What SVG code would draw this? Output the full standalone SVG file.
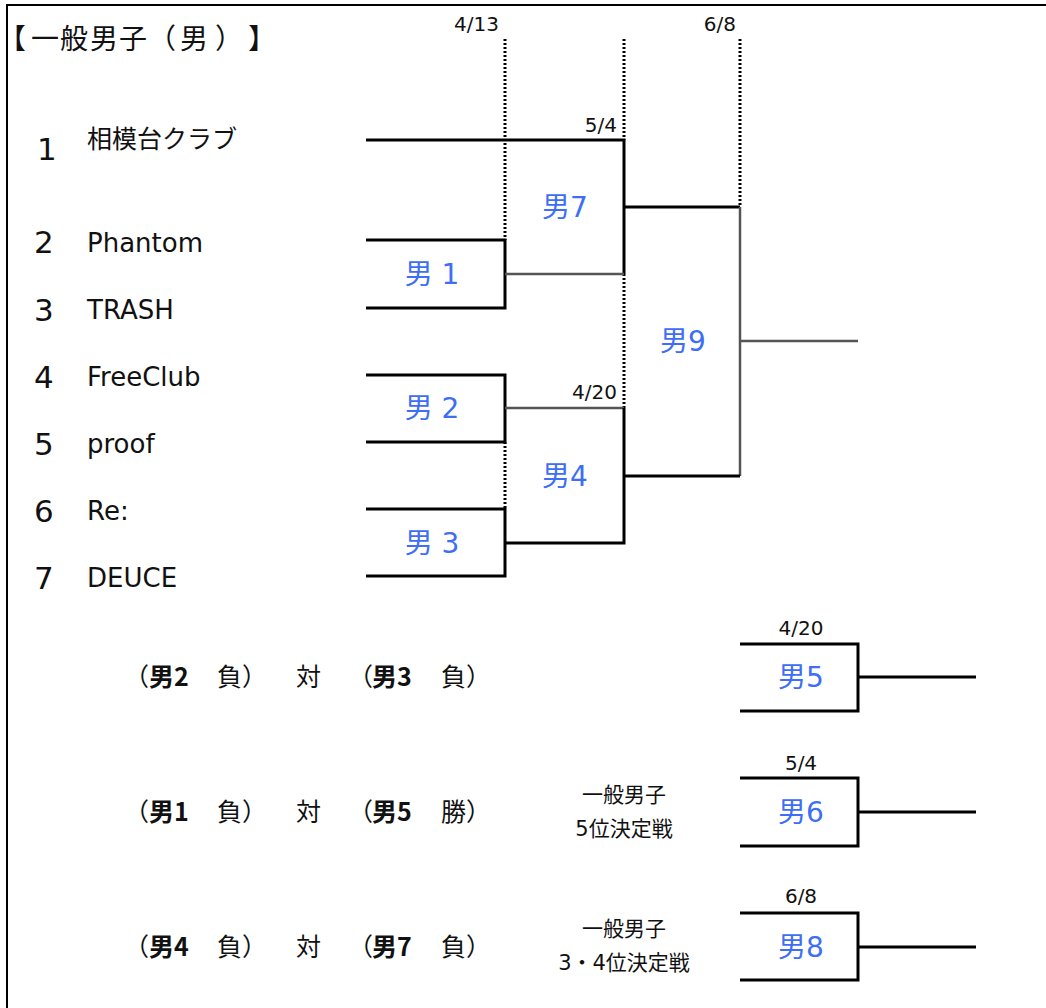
<svg xmlns="http://www.w3.org/2000/svg" width="1046" height="1008" viewBox="0 0 1046 1008">
<style>
text{font-family:"DejaVu Sans","Noto Sans CJK JP",sans-serif;fill:#111;text-spacing-trim:space-all}
.t{font-size:28px;font-family:"Noto Sans CJK JP",sans-serif;font-weight:normal}
.num{font-size:31px}
.name{font-size:26px}
.jp{font-size:25px;font-family:"Noto Sans CJK JP",sans-serif}
.date{font-size:20px}
.m{font-size:28px;fill:#3d6ef5;text-anchor:middle}
.row{font-size:25px;font-family:"Noto Sans CJK JP",sans-serif}
.b{font-weight:bold}
.side{font-size:21px;text-anchor:middle}
.k{stroke:#000;stroke-width:3;fill:none}
.g{stroke:#555;stroke-width:2.5;fill:none}
.d{stroke:#000;stroke-width:3;stroke-dasharray:2 2;fill:none}
</style>
<rect width="1046" height="1008" fill="#fff"/>
<path d="M7 1008V5H1046" fill="none" stroke="#000" stroke-width="2"/>
<text class="t" x="-2 31 60 90 119 148 180 215 248" y="49">【一般男子（男）】</text>

<g id="dates">
<text class="date" x="499" y="31" text-anchor="end">4/13</text>
<text class="date" x="736" y="31" text-anchor="end">6/8</text>
<text class="date" x="617" y="132" text-anchor="end">5/4</text>
<text class="date" x="617" y="399" text-anchor="end">4/20</text>
<text class="date" x="801" y="635" text-anchor="middle">4/20</text>
<text class="date" x="801" y="770" text-anchor="middle">5/4</text>
<text class="date" x="801" y="903" text-anchor="middle">6/8</text>
</g>

<g id="teams">
<g id="team1"><text class="num" x="37" y="160">1</text><text class="jp" x="87" y="148">相模台クラブ</text></g>
<g id="team2"><text class="num" x="34" y="253">2</text><text class="name" x="87" y="252">Phantom</text></g>
<g id="team3"><text class="num" x="34" y="321">3</text><text class="name" x="87" y="319">TRASH</text></g>
<g id="team4"><text class="num" x="34" y="388">4</text><text class="name" x="87" y="386">FreeClub</text></g>
<g id="team5"><text class="num" x="34" y="455">5</text><text class="name" x="87" y="453">proof</text></g>
<g id="team6"><text class="num" x="34" y="522">6</text><text class="name" x="87" y="520">Re:</text></g>
<g id="team7"><text class="num" x="34" y="589">7</text><text class="name" x="87" y="587">DEUCE</text></g>
</g>

<g id="connectors">
<path class="d" d="M505 39V240M505 442V509M624 39V140M624 274V408M740 39V207"/>
<path class="k" d="M366 140H624V274"/>
<path class="k" d="M366 240H505V308H366"/>
<path class="g" d="M505 274H624"/>
<path class="k" d="M624 207H740"/>
<path class="g" d="M740 207V476"/>
<path class="g" d="M740 341H858"/>
<path class="k" d="M366 375H505V442H366"/>
<path class="g" d="M505 408H624"/>
<path class="k" d="M624 408V543H505"/>
<path class="k" d="M366 509H505V576H366"/>
<path class="k" d="M624 476H740"/>
<path class="k" d="M740 644H858V711H740M858 677H976"/>
<path class="k" d="M740 778H858V846H740M858 812H976"/>
<path class="k" d="M740 913H858V980H740M858 947H976"/>
</g>

<g id="matches">
<text id="m1" class="m" x="432" y="284">男 1</text>
<text id="m2" class="m" x="432" y="418">男 2</text>
<text id="m3" class="m" x="432" y="553">男 3</text>
<text id="m7" class="m" x="565" y="217">男7</text>
<text id="m4" class="m" x="565" y="486">男4</text>
<text id="m9" class="m" x="683" y="351">男9</text>
<text id="m5" class="m" x="801" y="687">男5</text>
<text id="m6" class="m" x="801" y="822">男6</text>
<text id="m8" class="m" x="801" y="957">男8</text>
</g>

<g id="consolation">
<g id="row1">
<text class="row" x="124" y="686">（</text><text class="row b" x="149" y="686">男2</text><text class="row" x="217" y="686">負）</text>
<text class="row" x="296" y="686">対</text>
<text class="row" x="348" y="686">（</text><text class="row b" x="372" y="686">男3</text><text class="row" x="441" y="686">負）</text>
</g>
<g id="row2">
<text class="row" x="124" y="821">（</text><text class="row b" x="149" y="821">男1</text><text class="row" x="217" y="821">負）</text>
<text class="row" x="296" y="821">対</text>
<text class="row" x="348" y="821">（</text><text class="row b" x="372" y="821">男5</text><text class="row" x="441" y="821">勝）</text>
</g>
<g id="row3">
<text class="row" x="124" y="956">（</text><text class="row b" x="149" y="956">男4</text><text class="row" x="217" y="956">負）</text>
<text class="row" x="296" y="956">対</text>
<text class="row" x="348" y="956">（</text><text class="row b" x="372" y="956">男7</text><text class="row" x="441" y="956">負）</text>
</g>
<text class="side" x="624" y="802">一般男子</text>
<text class="side" x="624" y="836">5位決定戦</text>
<text class="side" x="624" y="936">一般男子</text>
<text class="side" x="624" y="970">3・4位決定戦</text>
</g>
</svg>
